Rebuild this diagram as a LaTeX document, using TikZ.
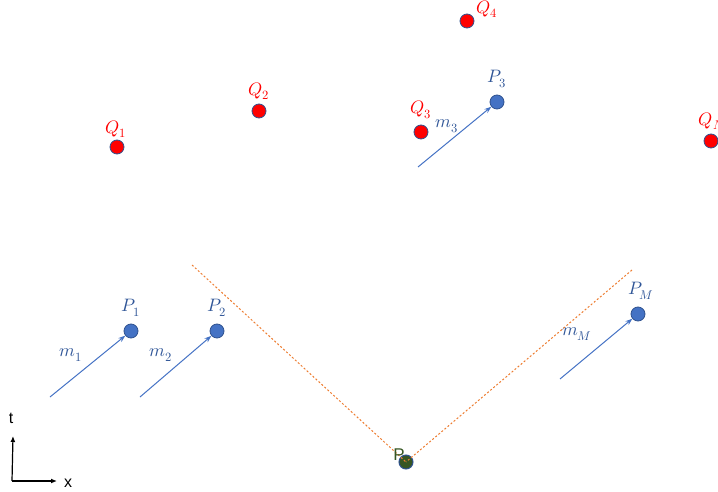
\documentclass[tikz,border=0pt]{standalone}
\usepackage{fontspec}
\usepackage{unicode-math}
\setsansfont{Liberation Sans}
\usetikzlibrary{arrows.meta}
\definecolor{qred}{HTML}{FF0000}
\definecolor{pblue}{HTML}{4472C4}
\definecolor{edge}{HTML}{2F528F}
\definecolor{lblue}{HTML}{2F5597}
\definecolor{dorange}{HTML}{ED7D31}
\definecolor{pgreen}{HTML}{375623}
\tikzset{
  qdot/.style={circle,fill=qred,draw=edge,line width=0.8pt,minimum size=14pt,inner sep=0pt},
  pdot/.style={circle,fill=pblue,draw=edge,line width=0.8pt,minimum size=14pt,inner sep=0pt},
  sdot/.style={circle,fill=pgreen,draw=edge,line width=1pt,minimum size=14pt,inner sep=0pt},
  qlab/.style={text=qred,font=\fontsize{18}{20}\selectfont,inner sep=0pt},
  plab/.style={text=lblue,font=\fontsize{18}{20}\selectfont,inner sep=0pt},
  marrow/.style={pblue,line width=1pt,-{Stealth[length=7pt,width=5pt]}},
  cone/.style={dorange,line width=1pt,dash pattern=on 2pt off 2pt},
  axis/.style={black,line width=1.2pt,-{Latex[length=6pt,width=5pt]}},
  axlab/.style={font=\sffamily\fontsize{16}{18}\selectfont,inner sep=0pt}
}
\begin{document}
\begin{tikzpicture}[x=1pt,y=-1pt]
\useasboundingbox (0,0) rectangle (718,492);
\clip (0,0) rectangle (718,492);
% Q points
\node[qdot] (q1) at (117,147) {};
\node[qlab] (lq1) at (116,129) {$Q_1$};
\node[qdot] (q2) at (259,111) {};
\node[qlab] (lq2) at (259,91) {$Q_2$};
\node[qdot] (q3) at (421,132) {};
\node[qlab] (lq3) at (421,110) {$Q_3$};
\node[qdot] (q4) at (467,21) {};
\node[qlab] (lq4) at (487,9) {$Q_4$};
\node[qdot] (qn) at (711,141) {};
\node[qlab] (lqn) at (712,121) {$Q_N$};
% P points
\node[pdot] (p1) at (131,331) {};
\node[plab] (lp1) at (131,308) {$P_1$};
\node[pdot] (p2) at (217,331) {};
\node[plab] (lp2) at (217,308) {$P_2$};
\node[pdot] (p3) at (497,102) {};
\node[plab] (lp3) at (497,79) {$P_3$};
\node[pdot] (pm) at (638,314) {};
\node[plab] (lpm) at (641,291) {$P_M$};
% momenta
\coordinate (a1) at (50,397);
\coordinate (a2) at (140,397);
\coordinate (a3) at (418,167);
\coordinate (am) at (560,379);
\draw[marrow] (a1) -- (p1);
\draw[marrow] (a2) -- (p2);
\draw[marrow] (a3) -- (p3);
\draw[marrow] (am) -- (pm);
\node[plab] (lm1) at (71,355) {$m_1$};
\node[plab] (lm2) at (161,355) {$m_2$};
\node[plab] (lm3) at (447,126) {$m_3$};
\node[plab] (lmm) at (577,334) {$m_M$};
% P star and light cone
\node[sdot] (ps) at (406,462) {};
\coordinate (c1) at (192,265);
\coordinate (c2) at (632,270);
\draw[cone] (c1) -- (ps.center);
\draw[cone] (c2) -- (ps.center);
\node[text=pgreen,font=\sffamily\fontsize{17}{19}\selectfont,inner sep=0pt] (lps) at (399,455) {P};
% axes
\coordinate (o) at (12,481);
\coordinate (tx) at (13,436);
\coordinate (xx) at (57,481);
\draw[axis] (o) -- (tx);
\draw[axis] (o) -- (xx);
\node[axlab] (lt) at (11,418) {t};
\node[axlab] (lx) at (68,483) {x};
\end{tikzpicture}
\end{document}
